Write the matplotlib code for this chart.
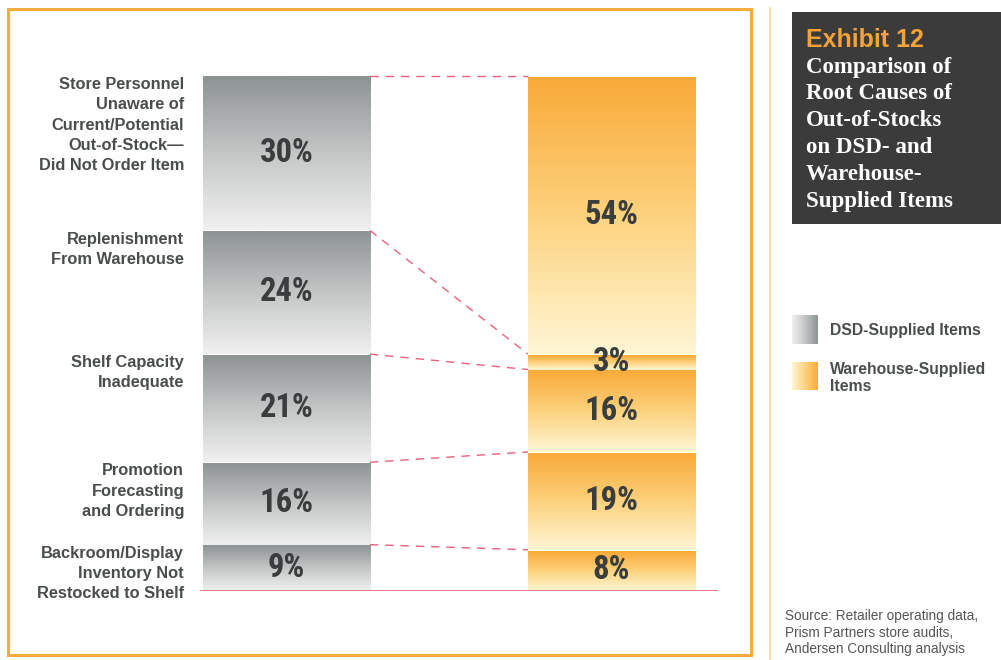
import numpy as np
import matplotlib
matplotlib.use('Agg')
import matplotlib.pyplot as plt
import matplotlib.patches as patches
from matplotlib.colors import LinearSegmentedColormap
from matplotlib import font_manager

# ---- data ----
causes = ['Store Personnel\nUnaware of\nCurrent/Potential\nOut-of-Stock\u2014\nDid Not Order Item',
          'Replenishment\nFrom Warehouse',
          'Shelf Capacity\nInadequate',
          'Promotion\nForecasting\nand Ordering',
          'Backroom/Display\nInventory Not\nRestocked to Shelf']
dsd_values = [30, 24, 21, 16, 9]
warehouse_values = [54, 3, 16, 19, 8]
series_names = ['DSD-Supplied Items', 'Warehouse-Supplied\nItems']

# colours
text_gray = '#4a4d4d'
dash_red = '#e8607a'
frame_orange = '#f7ac3c'
gray_cmap = LinearSegmentedColormap.from_list('g', ['#8e9393', '#c4c6c6', '#f0f0f0'])
orange_cmap = LinearSegmentedColormap.from_list('o', ['#f9aa38', '#fdd27e', '#fff6d4'])

label_font = ['Liberation Sans', 'DejaVu Sans']

# condensed face for the percentages, if one is installed
names = {f.name for f in font_manager.fontManager.ttflist}
pct_family = 'Liberation Sans'
for cand in ['Liberation Sans Narrow', 'DejaVu Sans Condensed', 'Roboto Condensed', 'Open Sans Condensed']:
    if cand in names:
        pct_family = cand
        break

fig = plt.figure(figsize=(10.01, 6.60), dpi=100)

# ---- decoration layer in pixel coordinates ----
deco = fig.add_axes([0, 0, 1, 1], zorder=0)
deco.set_xlim(0, 1001)
deco.set_ylim(660, 0)
deco.axis('off')

deco.add_patch(patches.Rectangle((8, 9), 743, 646, fill=False,
                                 edgecolor=frame_orange, linewidth=2.2))
deco.plot([770, 770], [8, 660], color='#fbd79a', linewidth=1.2)

# title box
deco.add_patch(patches.Rectangle((792, 12), 215, 212, facecolor='#3b3b3b', edgecolor='none'))
deco.text(806, 40, 'Exhibit 12', color='#f7a236', fontsize=18, fontweight='bold',
          family=label_font, va='center', ha='left')
title_lines = ['Comparison of', 'Root Causes of', 'Out-of-Stocks',
               'on DSD- and', 'Warehouse-', 'Supplied Items']
for i, line in enumerate(title_lines):
    deco.text(806, 67 + i * 26.8, line, color='white', fontsize=16.5, fontweight='bold',
              family=['Liberation Serif', 'DejaVu Serif'], va='center', ha='left')

# legend
grad_h = np.linspace(0, 1, 64).reshape(1, -1)
deco.imshow(grad_h[:, ::-1], cmap=gray_cmap, extent=(792, 818, 344, 315), aspect='auto')
deco.imshow(grad_h[:, ::-1], cmap=orange_cmap, extent=(792, 818, 390, 362), aspect='auto')
deco.set_xlim(0, 1001)
deco.set_ylim(660, 0)
deco.text(830, 331, series_names[0], color=text_gray, fontsize=11.3, fontweight='bold',
          family=label_font, va='center', ha='left')
deco.text(830, 378, series_names[1], color=text_gray, fontsize=11.3, fontweight='bold',
          family=label_font, va='center', ha='left', linespacing=1.15)

# source
deco.text(785, 609, 'Source: Retailer operating data,\nPrism Partners store audits,\nAndersen Consulting analysis',
          color='#555555', fontsize=9.8, family=label_font, va='top', ha='left', linespacing=1.25)

# ---- chart ----
ax = fig.add_axes([200 / 1001, 69 / 660, 518 / 1001, 515 / 660], zorder=1)
ax.patch.set_alpha(0)
ax.axis('off')

bar_x = [0, 1]
bar_w = 0.514
gap = 0.25
cmaps = [gray_cmap, orange_cmap]
grad_v = np.linspace(0, 1, 128).reshape(-1, 1)

tops_all = []
for x, vals, cm in zip(bar_x, [dsd_values, warehouse_values], cmaps):
    tops = 100 - np.concatenate([[0], np.cumsum(vals)[:-1]])
    bottoms = tops - np.array(vals)
    tops_all.append(tops)
    for v, t, b in zip(vals, tops, bottoms):
        ax.imshow(grad_v, cmap=cm, origin='upper', aspect='auto',
                  extent=(x - bar_w / 2, x + bar_w / 2, b, t - gap), zorder=2)
        ax.text(x, (t + b) / 2, f'{v}%', ha='center', va='center', fontsize=23.5,
                fontweight='bold', fontstretch='condensed', color='#3a3d3d',
                family=pct_family, zorder=4)

# dashed connectors from each DSD segment top to matching warehouse segment top
for t_dsd, t_wh in zip(tops_all[0], tops_all[1]):
    ax.plot([bar_x[0] + bar_w / 2, bar_x[1] - bar_w / 2], [t_dsd, t_wh],
            color=dash_red, linewidth=1, linestyle=(0, (6, 5)), clip_on=False, zorder=3)

ax.axhline(0, color=dash_red, linewidth=1.2, zorder=3)

# cause labels, right-aligned at the top of each DSD segment
for cause, t in zip(causes, tops_all[0]):
    ax.text(-0.315, t - 0.2, cause, ha='right', va='top', fontsize=11.8,
            fontweight='bold', color=text_gray, family=label_font, linespacing=1.44)

ax.set_xlim(-0.266, 1.3277)
ax.set_ylim(0, 100)

fig.savefig('out.png', dpi=100, facecolor='white')
